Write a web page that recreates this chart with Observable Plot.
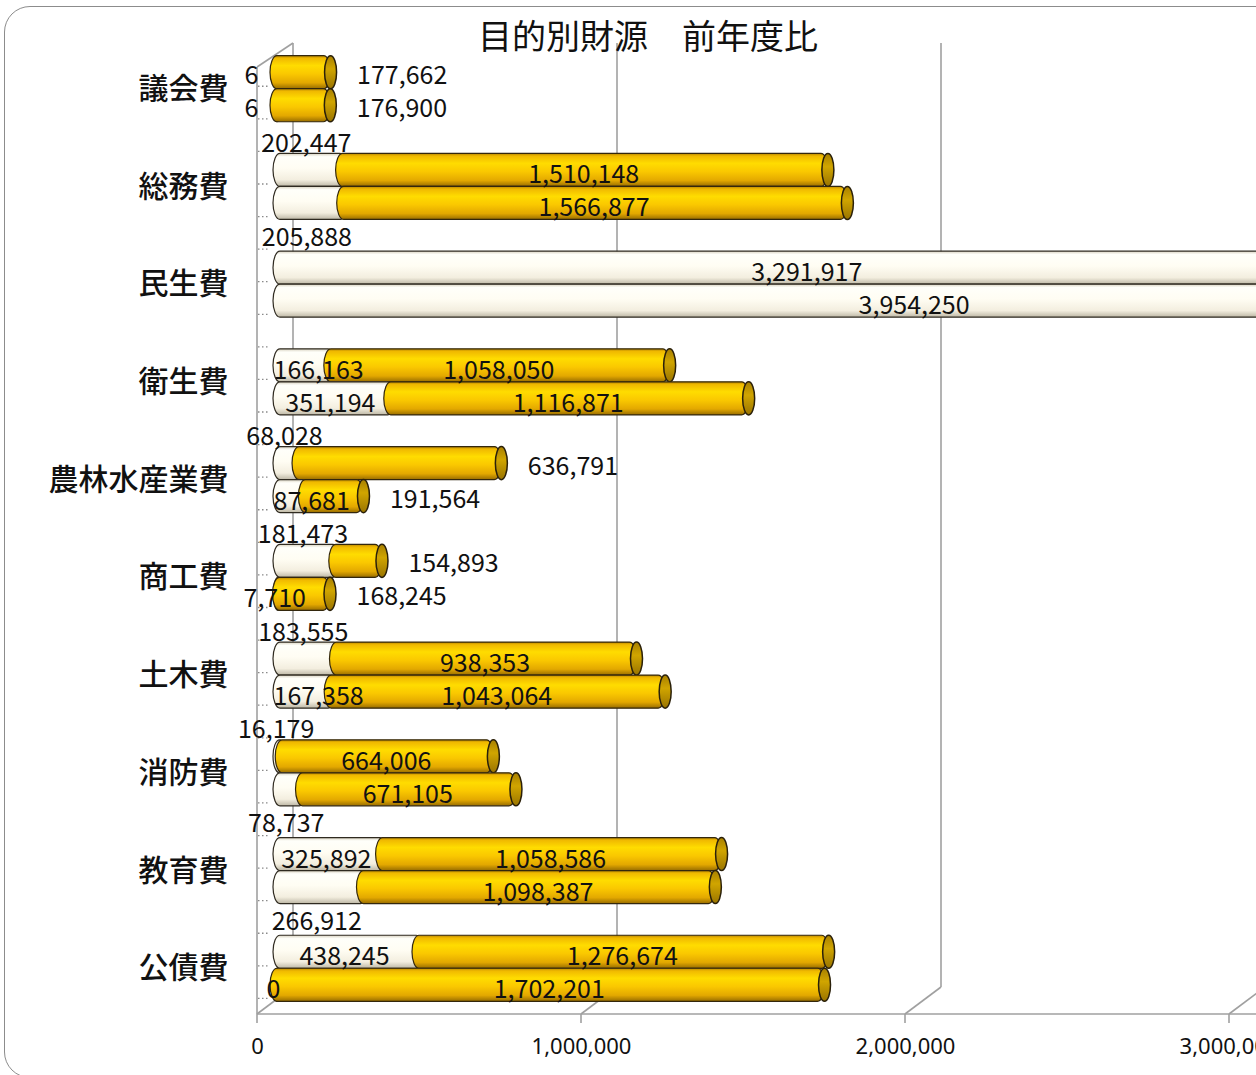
<!DOCTYPE html>
<html>
<head>
<meta charset="utf-8">
<script src="https://cdn.jsdelivr.net/npm/d3@7"></script>
<script src="https://cdn.jsdelivr.net/npm/@observablehq/plot@0.6"></script>
<style>
  html, body { margin: 0; padding: 0; background: #fff; overflow: hidden; width: 1256px; height: 1075px; }
  #wrap { position: relative; width: 1256px; height: 1075px; overflow: hidden; }
  #chart { position: absolute; left: 0; top: 0; }
  #border { position: absolute; left: 4px; top: 6px; width: 1400px; height: 1072px; border: 1.5px solid #8c8c8c; border-radius: 26px; box-sizing: border-box; pointer-events: none; }
  #title { position: absolute; left: 0; top: 10px; width: 1296px; text-align: center; font: 400 34px "Noto Sans CJK JP", sans-serif; color: #111; }
</style>
</head>
<body>
<div id="wrap">
  <div id="chart"></div>
  <div id="border"></div>
  <div id="title">目的別財源　前年度比</div>
</div>
<script>
// ---------------- data ----------------
const categories = ["議会費", "総務費", "民生費", "衛生費", "農林水産業費", "商工費", "土木費", "消防費", "教育費", "公債費"];
const segmentNames = ["特定財源", "一般財源"];   // cream segment, gold segment
const barNames = ["前年度", "本年度"];          // upper bar, lower bar of each pair
// upper bar of each pair
const specific1 = [6, 202447, 3291917, 166163, 68028, 181473, 183555, 16179, 325892, 438245];
const general1  = [177662, 1510148, null, 1058050, 636791, 154893, 938353, 664006, 1058586, 1276674]; // 民生費: beyond the visible area
// lower bar of each pair
const specific2 = [6, 205888, 3954250, 351194, 87681, 7710, 167358, 78737, 266912, 0];
const general2  = [176900, 1566877, null, 1116871, 191564, 168245, 1043064, 671105, 1098387, 1702201];
const tickValues = [0, 1000000, 2000000, 3000000];

// label placement modes (how the original places each data label)
const specificPlace1 = ["left", "above", "center", "start", "above", "above", "above", "above", "center", "center"];
const specificPlace2 = ["left", "below", "center", "center", "start", "center", "start", "below", "below", "center"];
const generalPlace1  = ["right", "center", "center", "center", "right", "right", "center", "center", "center", "center"];
const generalPlace2  = ["right", "center", "center", "center", "right", "right", "center", "center", "center", "center"];

// ---------------- layout / style ----------------
const W = 1256, H = 1075;
const HALF = 33;                 // height of one cylinder
const FRONT_DX = -16, BACK_DX = 20;   // 3D depth projection
const WALL_TOP = 43, FRONT_TOP = 67, FLOOR_Y = 987, AXIS_Y = 1014;
const fontJP = "'Noto Sans CJK JP', 'Noto Sans', sans-serif";
const fmt = d3.format(",");

// ---------------- table ----------------
const rows = [];
const totals = [];
const sets = [
  [specific1, general1, specificPlace1, generalPlace1],
  [specific2, general2, specificPlace2, generalPlace2]
];
categories.forEach((c, i) => {
  sets.forEach(([S, G, SP, GP], b) => {
    const s = S[i], g = G[i];
    rows.push({cat: c, bar: barNames[b], b, kind: segmentNames[0], x1: 0, x2: s, value: s, place: SP[i]});
    if (g != null) rows.push({cat: c, bar: barNames[b], b, kind: segmentNames[1], x1: s, x2: s + g, value: g, place: GP[i]});
    totals.push({cat: c, b, total: s + (g ?? 0)});
  });
});

// ---------------- 3D walls (drawn from the scales) ----------------
function decor(index, scales, values, dims) {
  const x = scales.x, y = scales.y;
  const g = d3.create("svg:g").attr("fill", "none").attr("stroke", "#a0a0a0").attr("stroke-width", 1.6);
  const line = (a, b, c, d) => g.append("line").attr("x1", a).attr("y1", b).attr("x2", c).attr("y2", d);
  const xf = v => x(v) + FRONT_DX, xb = v => x(v) + BACK_DX;
  // left wall
  line(xf(0), FRONT_TOP, xf(0), AXIS_Y);
  line(xf(0), FRONT_TOP, xb(0), WALL_TOP);
  // back wall gridlines and floor
  for (const v of tickValues) {
    line(xb(v), WALL_TOP, xb(v), FLOOR_Y);
    line(xf(v), AXIS_Y, xb(v), FLOOR_Y);
    line(xf(v), AXIS_Y, xf(v), AXIS_Y + 9);
  }
  line(xf(0), AXIS_Y, dims.width, AXIS_Y);
  // dotted category ticks on the left wall
  const dots = g.append("g").attr("stroke", "#8a8a8a").attr("stroke-width", 1.3).attr("stroke-dasharray", "1.5,2.5");
  const step = y.step();
  for (const c of categories) {
    const yb = y(c);
    for (const k of [1, 2, 3]) {
      const yy = yb + k * step / 3 - 2;
      if (yy < AXIS_Y - 5) dots.append("line").attr("x1", xf(0) + 1).attr("x2", xf(0) + 11).attr("y1", yy).attr("y2", yy);
    }
  }
  return g.node();
}

// ---------------- marks ----------------
const marks = [decor];
[0, 1].forEach(b => {
  const ins = b === 0 ? {insetBottom: HALF} : {insetTop: HALF};
  marks.push(Plot.barX(rows.filter(d => d.b === b && d.kind === segmentNames[0]), {
    x1: "x1", x2: "x2", y: "cat", ...ins, insetRight: -8, rx: 7, ry: HALF / 2,
    fill: "url(#gWhite)", stroke: "#2f2a20", strokeWidth: 1.2
  }));
  marks.push(Plot.barX(rows.filter(d => d.b === b && d.kind === segmentNames[1]), {
    x1: "x1", x2: "x2", y: "cat", ...ins, insetLeft: -3, rx: 7, ry: HALF / 2,
    fill: "url(#gGold)", stroke: "#33270c", strokeWidth: 1.2
  }));
  marks.push(Plot.barX(totals.filter(d => d.b === b && d.total > 0), {
    x1: "total", x2: "total", y: "cat", ...ins, insetLeft: -6, insetRight: -6, rx: 6, ry: HALF / 2,
    fill: "url(#gCap)", stroke: "#2a200a", strokeWidth: 1.5
  }));
});

// data labels
const mid = d => (d.x1 + d.x2) / 2;
const base = {y: "cat", text: d => fmt(d.value), fontSize: 25, fontFamily: fontJP, fill: "#111"};
[0, 1].forEach(b => {
  const barDy = b === 0 ? -HALF / 2 : HALF / 2;
  const sel = p => rows.filter(d => d.b === b && d.place === p);
  marks.push(Plot.text(sel("center"), {...base, x: mid, dy: barDy + 5}));
  marks.push(Plot.text(sel("start"), {...base, x: "x1", textAnchor: "start", dx: 0, dy: barDy + 5}));
  marks.push(Plot.text(sel("above"), {...base, x: mid, dy: -HALF - 10}));
  marks.push(Plot.text(sel("below"), {...base, x: mid, dy: HALF + 18}));
  marks.push(Plot.text(sel("left"), {...base, x: "x1", textAnchor: "end", dx: -15, dy: barDy + 3}));
  marks.push(Plot.text(sel("right"), {...base, x: "x2", textAnchor: "start", dx: 26, dy: barDy + 3}));
});

// category labels
marks.push(Plot.text(categories, {y: d => d, text: d => d, frameAnchor: "left", textAnchor: "end", dx: -45, fontSize: 30, fontWeight: 500, fontFamily: fontJP, fill: "#111"}));
// x tick labels on the front axis
marks.push(Plot.text(tickValues, {x: d => d, text: d => fmt(d), frameAnchor: "bottom", dy: 20, dx: FRONT_DX, fontSize: 22, fontFamily: "'Noto Sans', sans-serif", fill: "#111"}));

const svg = Plot.plot({
  width: W, height: H,
  marginLeft: 273, marginRight: 11, marginTop: 24, marginBottom: 42,
  x: {domain: [0, 3000000], axis: null},
  y: {domain: categories, padding: 0.324, round: false, axis: null},
  style: {background: "transparent"},
  marks
});

// gradients for the cylinders
const defs = d3.select(svg).insert("defs", ":first-child");
function grad(id, stops) {
  const lg = defs.append("linearGradient").attr("id", id).attr("x1", 0).attr("y1", 0).attr("x2", 0).attr("y2", 1);
  stops.forEach(([o, c]) => lg.append("stop").attr("offset", o).attr("stop-color", c));
}
grad("gGold", [[0, "#b88600"], [0.08, "#f0b900"], [0.3, "#ffdc00"], [0.55, "#fac800"], [0.82, "#e3a800"], [1, "#976c00"]]);
grad("gWhite", [[0, "#d8d2c0"], [0.1, "#fffffa"], [0.45, "#fffdf3"], [0.8, "#f3eedf"], [1, "#bdb7a5"]]);
grad("gCap", [[0, "#a88000"], [0.4, "#d0a500"], [1, "#9a7400"]]);

document.getElementById("chart").appendChild(svg);
</script>
</body>
</html>
